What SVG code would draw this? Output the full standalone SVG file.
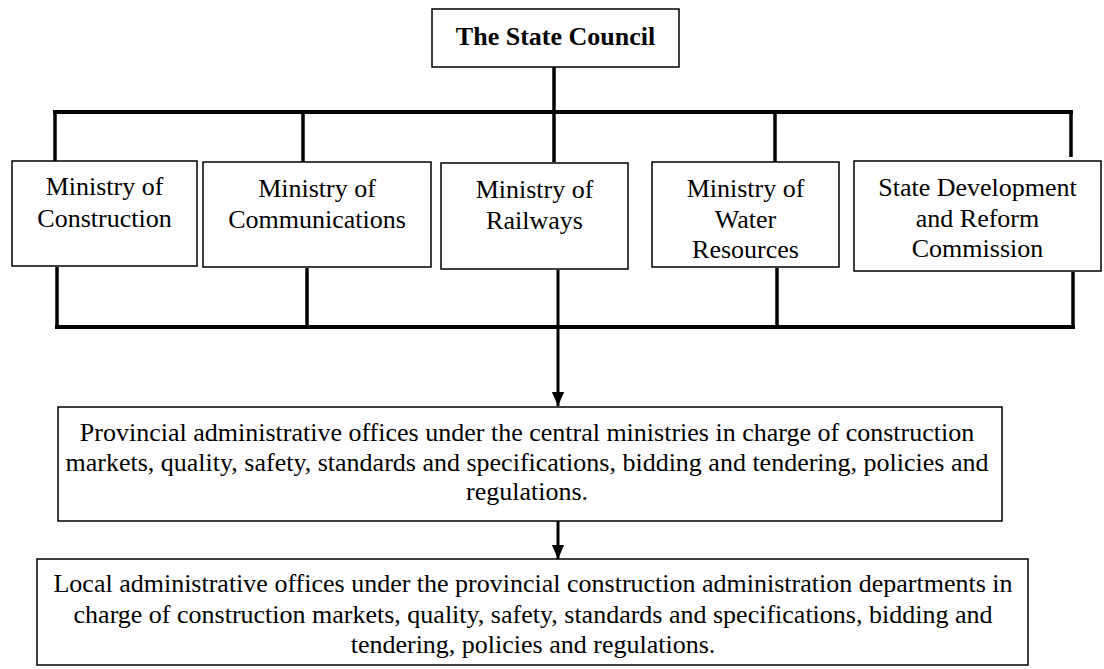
<svg xmlns="http://www.w3.org/2000/svg" width="1104" height="669" viewBox="0 0 1104 669">
  <defs>
    <style>
      .box { fill: #fff; stroke: #000; stroke-width: 1.5; }
      .lbl { font-family: "Liberation Serif", "Times New Roman", serif; font-size: 26px; fill: #000; text-anchor: middle; }
      .bold { font-weight: bold; }
      .bus { stroke: #000; stroke-width: 4; fill: none; stroke-linecap: square; }
      .drop { stroke: #000; stroke-width: 3.5; fill: none; }
      .shaft { stroke: #000; stroke-width: 3; fill: none; }
    </style>
    <marker id="head" markerWidth="14" markerHeight="16" refX="16" refY="7" orient="auto" markerUnits="userSpaceOnUse" viewBox="0 0 16 14">
      <path d="M0,0 L16,7 L0,14 Z" fill="#000"/>
    </marker>
  </defs>

  <!-- connectors -->
  <g id="connectors">
    <!-- council down to the upper bus and on to the railways box -->
    <line class="drop" x1="554" y1="67" x2="554" y2="162"/>
    <!-- upper bus -->
    <line class="bus" x1="55" y1="112" x2="1071" y2="112"/>
    <line class="drop" x1="55" y1="112" x2="55" y2="161"/>
    <line class="drop" x1="303" y1="112" x2="303" y2="162"/>
    <line class="drop" x1="775" y1="112" x2="775" y2="162"/>
    <line class="drop" x1="1071" y1="112" x2="1071" y2="157"/>
    <!-- ministries down to the lower bus -->
    <line class="drop" x1="57" y1="267" x2="57" y2="327"/>
    <line class="drop" x1="307" y1="268" x2="307" y2="327"/>
    <line class="drop" x1="777" y1="268" x2="777" y2="327"/>
    <line class="drop" x1="1073" y1="272" x2="1073" y2="327"/>
    <line class="bus" x1="57" y1="327" x2="1073" y2="327"/>
    <!-- lower bus to provincial offices -->
    <line class="shaft" x1="558" y1="270" x2="558" y2="406" marker-end="url(#head)"/>
    <!-- provincial to local offices -->
    <line class="shaft" x1="558" y1="521" x2="558" y2="559" marker-end="url(#head)"/>
  </g>

  <g id="state-council">
    <rect class="box" x="432" y="9" width="247" height="58"/>
    <text class="lbl bold" x="555.5" y="45">The State Council</text>
  </g>

  <g id="ministry-construction">
    <rect class="box" x="12" y="161" width="185" height="105"/>
    <text class="lbl" x="104.5" y="195">Ministry of</text>
    <text class="lbl" x="104.5" y="226.5">Construction</text>
  </g>

  <g id="ministry-communications">
    <rect class="box" x="203" y="162" width="228" height="105"/>
    <text class="lbl" x="317" y="196.5">Ministry of</text>
    <text class="lbl" x="317" y="227.5">Communications</text>
  </g>

  <g id="ministry-railways">
    <rect class="box" x="441" y="163" width="187" height="106"/>
    <text class="lbl" x="534.5" y="197.5">Ministry of</text>
    <text class="lbl" x="534.5" y="229">Railways</text>
  </g>

  <g id="ministry-water">
    <rect class="box" x="652" y="162" width="187" height="105"/>
    <text class="lbl" x="745.5" y="196.5">Ministry of</text>
    <text class="lbl" x="745.5" y="227.5">Water</text>
    <text class="lbl" x="745.5" y="257.5">Resources</text>
  </g>

  <g id="state-development">
    <rect class="box" x="854" y="161" width="247" height="110"/>
    <text class="lbl" x="977.5" y="196">State Development</text>
    <text class="lbl" x="977.5" y="226.5">and Reform</text>
    <text class="lbl" x="977.5" y="257">Commission</text>
  </g>

  <g id="provincial-offices">
    <rect class="box" x="58" y="407" width="944" height="114"/>
    <text class="lbl" x="527" y="441">Provincial administrative offices under the central ministries in charge of construction</text>
    <text class="lbl" x="527" y="470.5">markets, quality, safety, standards and specifications, bidding and tendering, policies and</text>
    <text class="lbl" x="527" y="500">regulations.</text>
  </g>

  <g id="local-offices">
    <rect class="box" x="37" y="559" width="991" height="106"/>
    <text class="lbl" x="533" y="591.5">Local administrative offices under the provincial construction administration departments in</text>
    <text class="lbl" x="533" y="622.5">charge of construction markets, quality, safety, standards and specifications, bidding and</text>
    <text class="lbl" x="533" y="652.5">tendering, policies and regulations.</text>
  </g>
</svg>
